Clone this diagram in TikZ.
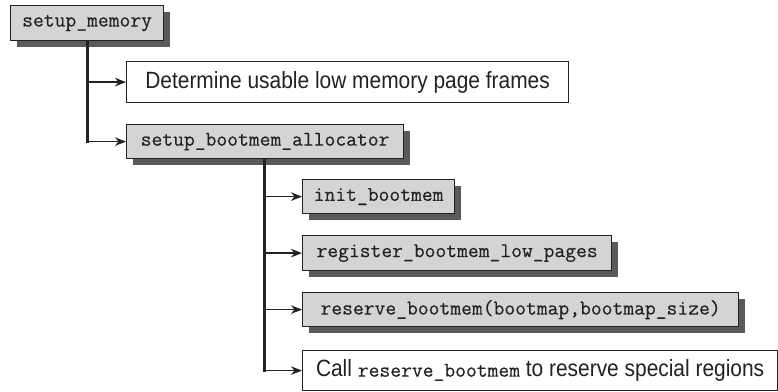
\documentclass[tikz,border=0pt]{standalone}
\usepackage{fontspec}
\setmainfont{Liberation Sans}[FakeStretch=0.89]
\setmonofont{Latin Modern Mono}[FakeBold=0.35]
\usetikzlibrary{arrows.meta}
\definecolor{boxgray}{HTML}{D4D4D4}
\definecolor{shadowgray}{HTML}{5A5A5A}
\definecolor{linecol}{HTML}{222222}
\newcommand{\monotext}{\ttfamily\fontsize{21}{23}\selectfont}
\tikzset{
  x=1pt,y=-1pt,
  fnbox/.style={draw=linecol, line width=1.2pt, fill=boxgray, anchor=north west, inner sep=0pt,
    font=\monotext, text=linecol,
    preaction={fill=shadowgray, transform canvas={shift={(6pt,-6pt)}}}},
  txtbox/.style={draw=linecol, line width=1.2pt, fill=white, anchor=north west, inner sep=0pt,
    font=\fontsize{23.5}{26}\selectfont, text=linecol},
  trunk/.style={draw=linecol, line width=3pt},
  branch/.style={draw=linecol, line width=1.7pt, -{Stealth[length=11pt,width=8.5pt,inset=3.5pt]}},
}
\begin{document}
\begin{tikzpicture}
\useasboundingbox (0,0) rectangle (778,391);
\node[fnbox, minimum width=153pt, minimum height=35pt] (sm) at (10,5) {setup\_memory};
\node[txtbox, minimum width=442pt, minimum height=41pt] (det) at (126,61) {Determine usable low memory page frames};
\node[fnbox, minimum width=277pt, minimum height=34pt] (sba) at (126,124) {setup\_bootmem\_allocator};
\node[fnbox, minimum width=152pt, minimum height=34pt] (ib) at (302,179) {init\_bootmem};
\node[fnbox, minimum width=309pt, minimum height=35pt] (rbl) at (302,235) {register\_bootmem\_low\_pages};
\node[fnbox, minimum width=436pt, minimum height=34pt] (rb) at (302,292) {reserve\_bootmem(bootmap,bootmap\_size)};
\node[txtbox, minimum width=475pt, minimum height=40pt] (call) at (302,350) {Call {\monotext reserve\_bootmem} to reserve special regions};

\coordinate (t1) at (87,0 |- sm.south);
\coordinate (t1a) at (t1 |- det.west);
\coordinate (t1b) at (t1 |- sba.west);
\draw[trunk] (t1) -- ([yshift=-1.3pt]t1b);
\draw[branch] (t1a) -- (det.west);
\draw[branch] (t1b) -- (sba.west);

\coordinate (t2) at (264,0 |- sba.south);
\coordinate (t2a) at (t2 |- ib.west);
\coordinate (t2b) at (t2 |- rbl.west);
\coordinate (t2c) at (t2 |- rb.west);
\coordinate (t2d) at (t2 |- call.west);
\draw[trunk] (t2) -- ([yshift=-1.3pt]t2d);
\draw[branch] (t2a) -- (ib.west);
\draw[branch] (t2b) -- (rbl.west);
\draw[branch] (t2c) -- (rb.west);
\draw[branch] (t2d) -- (call.west);
\end{tikzpicture}
\end{document}
